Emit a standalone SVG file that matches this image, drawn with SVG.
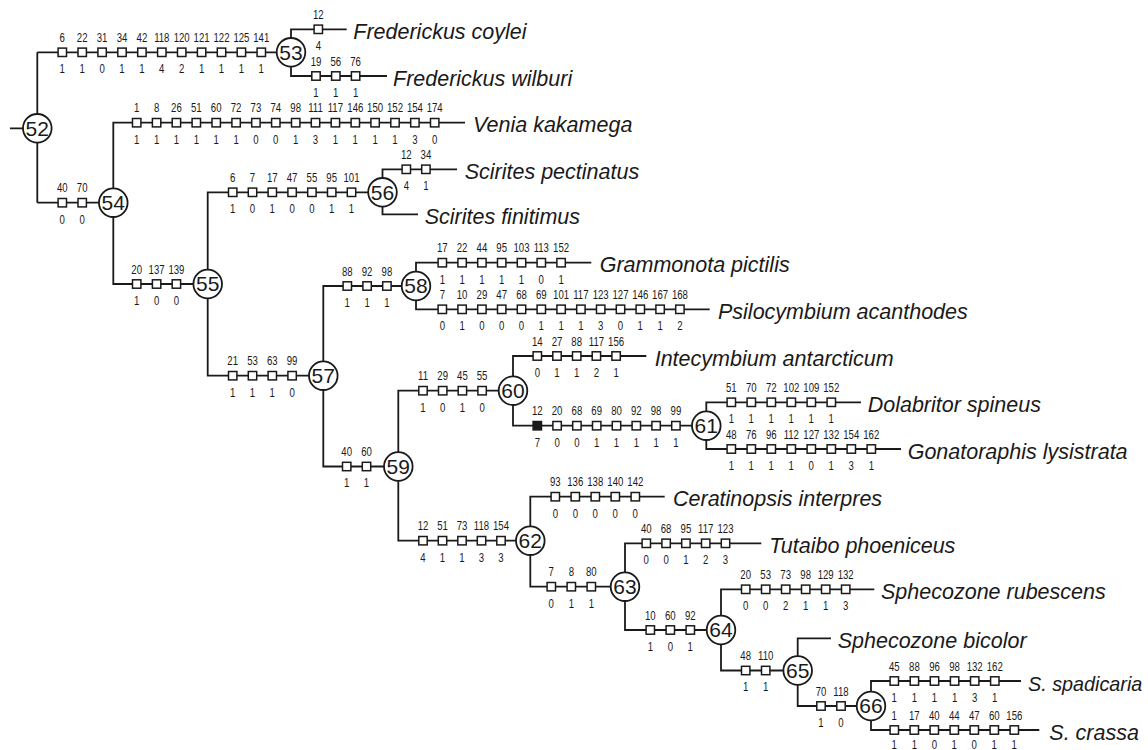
<svg xmlns="http://www.w3.org/2000/svg" width="1148" height="750" viewBox="0 0 1148 750">
<style>
.bg{fill:#fff}
.con{fill:none;stroke:#1a1a1a;stroke-width:1.8}
.sq{fill:#fff;stroke:#1a1a1a;stroke-width:1.5}
.sqf{fill:#1a1a1a;stroke:#1a1a1a;stroke-width:1.5}
.nd{fill:#fff;stroke:#1a1a1a;stroke-width:1.8}
.nl{font-family:"Liberation Sans",Arial,sans-serif;font-size:21px;fill:#1a1a1a;text-anchor:middle}
.ch{font-family:"Liberation Sans",Arial,sans-serif;font-size:12px;fill:#1a1a1a;text-anchor:middle}
.tx{font-family:"Liberation Sans",Arial,sans-serif;font-size:21.5px;font-style:italic;fill:#1a1a1a}
</style>
<defs>
<rect id="s" class="sq" x="-4.2" y="-4.2" width="8.4" height="8.4"/>
<rect id="sf" class="sqf" x="-4.2" y="-4.2" width="8.4" height="8.4"/>
</defs>
<rect class="bg" x="0" y="0" width="1148" height="750"/>
<g id="connectors" class="con">
<path d="M10,128.3H37.3M37.3,52.3V202.7M37.3,52.3H291M291,52.3V29.3H346.7M291,52.3V76H387"/>
<path d="M37.3,202.7H113.3M113.3,202.7V122.7H465M113.3,202.7V284H207.7"/>
<path d="M207.7,284V192.3H382.5M382.5,192.3V169.3H457M382.5,192.3V214.3H418"/>
<path d="M207.7,284V375.7H323.3M323.3,375.7V286H416M416,286V262.7H591.3M416,286V309.3H709.7"/>
<path d="M323.3,375.7V466.5H398.3M398.3,466.5V390.7H513M513,390.7V356H646.3M513,390.7V425.7H706.3M706.3,425.7V402.3H861M706.3,425.7V449H901"/>
<path d="M398.3,466.5V540.7H530.3M530.3,540.7V496.7H664.7M530.3,540.7V586.7H625M625,586.7V543.3H761.3M625,586.7V630H721"/>
<path d="M721,630V589.3H874.3M721,630V670.5H797.7M797.7,670.5V638.3H831M797.7,670.5V706H871M871,706V681H1021M871,706V730H1039.3"/>
</g>
<g id="chars-53">
<use href="#s" x="62.3" y="52.3"/><use href="#s" x="82.2" y="52.3"/><use href="#s" x="102.1" y="52.3"/><use href="#s" x="122" y="52.3"/><use href="#s" x="141.9" y="52.3"/><use href="#s" x="161.8" y="52.3"/><use href="#s" x="181.7" y="52.3"/><use href="#s" x="201.6" y="52.3"/><use href="#s" x="221.5" y="52.3"/><use href="#s" x="241.4" y="52.3"/><use href="#s" x="261.3" y="52.3"/>
<text class="ch" transform="scale(0.8 1)" y="42"><tspan x="77.875">6</tspan><tspan x="102.75">22</tspan><tspan x="127.625">31</tspan><tspan x="152.5">34</tspan><tspan x="177.375">42</tspan><tspan x="202.25">118</tspan><tspan x="227.125">120</tspan><tspan x="252">121</tspan><tspan x="276.875">122</tspan><tspan x="301.75">125</tspan><tspan x="326.625">141</tspan></text>
<text class="ch" transform="scale(0.8 1)" y="73.3" x="77.875 102.75 127.625 152.5 177.375 202.25 227.125 252 276.875 301.75 326.625">11011421111</text>
</g>
<g id="chars-coylei">
<use href="#s" x="318.3" y="29.3"/>
<text class="ch" transform="scale(0.8 1)" x="397.875" y="19">12</text>
<text class="ch" transform="scale(0.8 1)" x="397.875" y="50.3">4</text>
</g>
<g id="chars-wilburi">
<use href="#s" x="316" y="76"/><use href="#s" x="335.8" y="76"/><use href="#s" x="355.6" y="76"/>
<text class="ch" transform="scale(0.8 1)" y="65.7"><tspan x="395">19</tspan><tspan x="419.75">56</tspan><tspan x="444.5">76</tspan></text>
<text class="ch" transform="scale(0.8 1)" y="97" x="395 419.75 444.5">111</text>
</g>
<g id="chars-54">
<use href="#s" x="62.3" y="202.7"/><use href="#s" x="82.2" y="202.7"/>
<text class="ch" transform="scale(0.8 1)" y="192.4"><tspan x="77.875">40</tspan><tspan x="102.75">70</tspan></text>
<text class="ch" transform="scale(0.8 1)" y="223.7" x="77.875 102.75">00</text>
</g>
<g id="chars-venia">
<use href="#s" x="136.7" y="122.7"/><use href="#s" x="156.6" y="122.7"/><use href="#s" x="176.4" y="122.7"/><use href="#s" x="196.3" y="122.7"/><use href="#s" x="216.2" y="122.7"/><use href="#s" x="236.1" y="122.7"/><use href="#s" x="255.9" y="122.7"/><use href="#s" x="275.8" y="122.7"/><use href="#s" x="295.7" y="122.7"/><use href="#s" x="315.5" y="122.7"/><use href="#s" x="335.4" y="122.7"/><use href="#s" x="355.3" y="122.7"/><use href="#s" x="375.1" y="122.7"/><use href="#s" x="395" y="122.7"/><use href="#s" x="414.9" y="122.7"/><use href="#s" x="434.7" y="122.7"/>
<text class="ch" transform="scale(0.8 1)" y="112.4"><tspan x="170.875">1</tspan><tspan x="195.75">8</tspan><tspan x="220.5">26</tspan><tspan x="245.375">51</tspan><tspan x="270.25">60</tspan><tspan x="295.125">72</tspan><tspan x="319.875">73</tspan><tspan x="344.75">74</tspan><tspan x="369.625">98</tspan><tspan x="394.375">111</tspan><tspan x="419.25">117</tspan><tspan x="444.125">146</tspan><tspan x="468.875">150</tspan><tspan x="493.75">152</tspan><tspan x="518.625">154</tspan><tspan x="543.375">174</tspan></text>
<text class="ch" transform="scale(0.8 1)" y="143.7" x="170.875 195.75 220.5 245.375 270.25 295.125 319.875 344.75 369.625 394.375 419.25 444.125 468.875 493.75 518.625 543.375">1111110013111130</text>
</g>
<g id="chars-55">
<use href="#s" x="136.7" y="284"/><use href="#s" x="156.6" y="284"/><use href="#s" x="176.4" y="284"/>
<text class="ch" transform="scale(0.8 1)" y="273.7"><tspan x="170.875">20</tspan><tspan x="195.75">137</tspan><tspan x="220.5">139</tspan></text>
<text class="ch" transform="scale(0.8 1)" y="305" x="170.875 195.75 220.5">100</text>
</g>
<g id="chars-56">
<use href="#s" x="232.7" y="192.3"/><use href="#s" x="252.5" y="192.3"/><use href="#s" x="272.3" y="192.3"/><use href="#s" x="292.1" y="192.3"/><use href="#s" x="311.9" y="192.3"/><use href="#s" x="331.7" y="192.3"/><use href="#s" x="351.5" y="192.3"/>
<text class="ch" transform="scale(0.8 1)" y="182"><tspan x="290.875">6</tspan><tspan x="315.625">7</tspan><tspan x="340.375">17</tspan><tspan x="365.125">47</tspan><tspan x="389.875">55</tspan><tspan x="414.625">95</tspan><tspan x="439.375">101</tspan></text>
<text class="ch" transform="scale(0.8 1)" y="213.3" x="290.875 315.625 340.375 365.125 389.875 414.625 439.375">1010011</text>
</g>
<g id="chars-pectinatus">
<use href="#s" x="406.3" y="169.3"/><use href="#s" x="425.9" y="169.3"/>
<text class="ch" transform="scale(0.8 1)" y="159"><tspan x="507.875">12</tspan><tspan x="532.375">34</tspan></text>
<text class="ch" transform="scale(0.8 1)" y="190.3" x="507.875 532.375">41</text>
</g>
<g id="chars-57">
<use href="#s" x="232.7" y="375.7"/><use href="#s" x="252.5" y="375.7"/><use href="#s" x="272.3" y="375.7"/><use href="#s" x="292.1" y="375.7"/>
<text class="ch" transform="scale(0.8 1)" y="365.4"><tspan x="290.875">21</tspan><tspan x="315.625">53</tspan><tspan x="340.375">63</tspan><tspan x="365.125">99</tspan></text>
<text class="ch" transform="scale(0.8 1)" y="396.7" x="290.875 315.625 340.375 365.125">1110</text>
</g>
<g id="chars-58">
<use href="#s" x="347.3" y="286"/><use href="#s" x="367.1" y="286"/><use href="#s" x="386.9" y="286"/>
<text class="ch" transform="scale(0.8 1)" y="275.7"><tspan x="434.125">88</tspan><tspan x="458.875">92</tspan><tspan x="483.625">98</tspan></text>
<text class="ch" transform="scale(0.8 1)" y="307" x="434.125 458.875 483.625">111</text>
</g>
<g id="chars-grammonota">
<use href="#s" x="442.3" y="262.7"/><use href="#s" x="462.1" y="262.7"/><use href="#s" x="481.9" y="262.7"/><use href="#s" x="501.7" y="262.7"/><use href="#s" x="521.5" y="262.7"/><use href="#s" x="541.3" y="262.7"/><use href="#s" x="561.1" y="262.7"/>
<text class="ch" transform="scale(0.8 1)" y="252.4"><tspan x="552.875">17</tspan><tspan x="577.625">22</tspan><tspan x="602.375">44</tspan><tspan x="627.125">95</tspan><tspan x="651.875">103</tspan><tspan x="676.625">113</tspan><tspan x="701.375">152</tspan></text>
<text class="ch" transform="scale(0.8 1)" y="283.7" x="552.875 577.625 602.375 627.125 651.875 676.625 701.375">1111101</text>
</g>
<g id="chars-psilocymbium">
<use href="#s" x="442.3" y="309.3"/><use href="#s" x="462.1" y="309.3"/><use href="#s" x="481.9" y="309.3"/><use href="#s" x="501.7" y="309.3"/><use href="#s" x="521.5" y="309.3"/><use href="#s" x="541.3" y="309.3"/><use href="#s" x="561.1" y="309.3"/><use href="#s" x="580.9" y="309.3"/><use href="#s" x="600.7" y="309.3"/><use href="#s" x="620.5" y="309.3"/><use href="#s" x="640.3" y="309.3"/><use href="#s" x="660.1" y="309.3"/><use href="#s" x="679.9" y="309.3"/>
<text class="ch" transform="scale(0.8 1)" y="299"><tspan x="552.875">7</tspan><tspan x="577.625">10</tspan><tspan x="602.375">29</tspan><tspan x="627.125">47</tspan><tspan x="651.875">68</tspan><tspan x="676.625">69</tspan><tspan x="701.375">101</tspan><tspan x="726.125">117</tspan><tspan x="750.875">123</tspan><tspan x="775.625">127</tspan><tspan x="800.375">146</tspan><tspan x="825.125">167</tspan><tspan x="849.875">168</tspan></text>
<text class="ch" transform="scale(0.8 1)" y="330.3" x="552.875 577.625 602.375 627.125 651.875 676.625 701.375 726.125 750.875 775.625 800.375 825.125 849.875">0100011130112</text>
</g>
<g id="chars-59">
<use href="#s" x="346.7" y="466.5"/><use href="#s" x="366.5" y="466.5"/>
<text class="ch" transform="scale(0.8 1)" y="456.2"><tspan x="433.375">40</tspan><tspan x="458.125">60</tspan></text>
<text class="ch" transform="scale(0.8 1)" y="487.5" x="433.375 458.125">11</text>
</g>
<g id="chars-60">
<use href="#s" x="423" y="390.7"/><use href="#s" x="442.7" y="390.7"/><use href="#s" x="462.4" y="390.7"/><use href="#s" x="482.1" y="390.7"/>
<text class="ch" transform="scale(0.8 1)" y="380.4"><tspan x="528.75">11</tspan><tspan x="553.375">29</tspan><tspan x="578">45</tspan><tspan x="602.625">55</tspan></text>
<text class="ch" transform="scale(0.8 1)" y="411.7" x="528.75 553.375 578 602.625">1010</text>
</g>
<g id="chars-intecymbium">
<use href="#s" x="537.3" y="356"/><use href="#s" x="557" y="356"/><use href="#s" x="576.7" y="356"/><use href="#s" x="596.4" y="356"/><use href="#s" x="616.1" y="356"/>
<text class="ch" transform="scale(0.8 1)" y="345.7"><tspan x="671.625">14</tspan><tspan x="696.25">27</tspan><tspan x="720.875">88</tspan><tspan x="745.5">117</tspan><tspan x="770.125">156</tspan></text>
<text class="ch" transform="scale(0.8 1)" y="377" x="671.625 696.25 720.875 745.5 770.125">01121</text>
</g>
<g id="chars-61">
<use href="#sf" x="537.3" y="425.7"/><use href="#s" x="557.1" y="425.7"/><use href="#s" x="576.9" y="425.7"/><use href="#s" x="596.7" y="425.7"/><use href="#s" x="616.5" y="425.7"/><use href="#s" x="636.3" y="425.7"/><use href="#s" x="656.1" y="425.7"/><use href="#s" x="675.9" y="425.7"/>
<text class="ch" transform="scale(0.8 1)" y="415.4"><tspan x="671.625">12</tspan><tspan x="696.375">20</tspan><tspan x="721.125">68</tspan><tspan x="745.875">69</tspan><tspan x="770.625">80</tspan><tspan x="795.375">92</tspan><tspan x="820.125">98</tspan><tspan x="844.875">99</tspan></text>
<text class="ch" transform="scale(0.8 1)" y="446.7" x="671.625 696.375 721.125 745.875 770.625 795.375 820.125 844.875">70011111</text>
</g>
<g id="chars-dolabritor">
<use href="#s" x="731.3" y="402.3"/><use href="#s" x="751.3" y="402.3"/><use href="#s" x="771.3" y="402.3"/><use href="#s" x="791.3" y="402.3"/><use href="#s" x="811.3" y="402.3"/><use href="#s" x="831.3" y="402.3"/>
<text class="ch" transform="scale(0.8 1)" y="392"><tspan x="914.125">51</tspan><tspan x="939.125">70</tspan><tspan x="964.125">72</tspan><tspan x="989.125">102</tspan><tspan x="1014.125">109</tspan><tspan x="1039.125">152</tspan></text>
<text class="ch" transform="scale(0.8 1)" y="423.3" x="914.125 939.125 964.125 989.125 1014.125 1039.125">111111</text>
</g>
<g id="chars-gonatoraphis">
<use href="#s" x="731.3" y="449"/><use href="#s" x="751.3" y="449"/><use href="#s" x="771.3" y="449"/><use href="#s" x="791.3" y="449"/><use href="#s" x="811.3" y="449"/><use href="#s" x="831.3" y="449"/><use href="#s" x="851.3" y="449"/><use href="#s" x="871.3" y="449"/>
<text class="ch" transform="scale(0.8 1)" y="438.7"><tspan x="914.125">48</tspan><tspan x="939.125">76</tspan><tspan x="964.125">96</tspan><tspan x="989.125">112</tspan><tspan x="1014.125">127</tspan><tspan x="1039.125">132</tspan><tspan x="1064.125">154</tspan><tspan x="1089.125">162</tspan></text>
<text class="ch" transform="scale(0.8 1)" y="470" x="914.125 939.125 964.125 989.125 1014.125 1039.125 1064.125 1089.125">11110131</text>
</g>
<g id="chars-62">
<use href="#s" x="423" y="540.7"/><use href="#s" x="442.5" y="540.7"/><use href="#s" x="462" y="540.7"/><use href="#s" x="481.5" y="540.7"/><use href="#s" x="501" y="540.7"/>
<text class="ch" transform="scale(0.8 1)" y="530.4"><tspan x="528.75">12</tspan><tspan x="553.125">51</tspan><tspan x="577.5">73</tspan><tspan x="601.875">118</tspan><tspan x="626.25">154</tspan></text>
<text class="ch" transform="scale(0.8 1)" y="561.7" x="528.75 553.125 577.5 601.875 626.25">41133</text>
</g>
<g id="chars-ceratinopsis">
<use href="#s" x="555.3" y="496.7"/><use href="#s" x="575.3" y="496.7"/><use href="#s" x="595.3" y="496.7"/><use href="#s" x="615.3" y="496.7"/><use href="#s" x="635.3" y="496.7"/>
<text class="ch" transform="scale(0.8 1)" y="486.4"><tspan x="694.125">93</tspan><tspan x="719.125">136</tspan><tspan x="744.125">138</tspan><tspan x="769.125">140</tspan><tspan x="794.125">142</tspan></text>
<text class="ch" transform="scale(0.8 1)" y="517.7" x="694.125 719.125 744.125 769.125 794.125">00000</text>
</g>
<g id="chars-63">
<use href="#s" x="551.3" y="586.7"/><use href="#s" x="571.3" y="586.7"/><use href="#s" x="591.3" y="586.7"/>
<text class="ch" transform="scale(0.8 1)" y="576.4"><tspan x="689.125">7</tspan><tspan x="714.125">8</tspan><tspan x="739.125">80</tspan></text>
<text class="ch" transform="scale(0.8 1)" y="607.7" x="689.125 714.125 739.125">011</text>
</g>
<g id="chars-tutaibo">
<use href="#s" x="646.3" y="543.3"/><use href="#s" x="666.1" y="543.3"/><use href="#s" x="685.9" y="543.3"/><use href="#s" x="705.7" y="543.3"/><use href="#s" x="725.5" y="543.3"/>
<text class="ch" transform="scale(0.8 1)" y="533"><tspan x="807.875">40</tspan><tspan x="832.625">68</tspan><tspan x="857.375">95</tspan><tspan x="882.125">117</tspan><tspan x="906.875">123</tspan></text>
<text class="ch" transform="scale(0.8 1)" y="564.3" x="807.875 832.625 857.375 882.125 906.875">00123</text>
</g>
<g id="chars-64">
<use href="#s" x="650.3" y="630"/><use href="#s" x="670.3" y="630"/><use href="#s" x="690.3" y="630"/>
<text class="ch" transform="scale(0.8 1)" y="619.7"><tspan x="812.875">10</tspan><tspan x="837.875">60</tspan><tspan x="862.875">92</tspan></text>
<text class="ch" transform="scale(0.8 1)" y="651" x="812.875 837.875 862.875">101</text>
</g>
<g id="chars-rubescens">
<use href="#s" x="745.7" y="589.3"/><use href="#s" x="765.7" y="589.3"/><use href="#s" x="785.7" y="589.3"/><use href="#s" x="805.7" y="589.3"/><use href="#s" x="825.7" y="589.3"/><use href="#s" x="845.7" y="589.3"/>
<text class="ch" transform="scale(0.8 1)" y="579"><tspan x="932.125">20</tspan><tspan x="957.125">53</tspan><tspan x="982.125">73</tspan><tspan x="1007.125">98</tspan><tspan x="1032.125">129</tspan><tspan x="1057.125">132</tspan></text>
<text class="ch" transform="scale(0.8 1)" y="610.3" x="932.125 957.125 982.125 1007.125 1032.125 1057.125">002113</text>
</g>
<g id="chars-65">
<use href="#s" x="745.7" y="670.5"/><use href="#s" x="765.7" y="670.5"/>
<text class="ch" transform="scale(0.8 1)" y="660.2"><tspan x="932.125">48</tspan><tspan x="957.125">110</tspan></text>
<text class="ch" transform="scale(0.8 1)" y="691.5" x="932.125 957.125">11</text>
</g>
<g id="chars-66">
<use href="#s" x="821" y="706"/><use href="#s" x="841" y="706"/>
<text class="ch" transform="scale(0.8 1)" y="695.7"><tspan x="1026.25">70</tspan><tspan x="1051.25">118</tspan></text>
<text class="ch" transform="scale(0.8 1)" y="727" x="1026.25 1051.25">10</text>
</g>
<g id="chars-spadicaria">
<use href="#s" x="894.3" y="681"/><use href="#s" x="914.4" y="681"/><use href="#s" x="934.5" y="681"/><use href="#s" x="954.6" y="681"/><use href="#s" x="974.7" y="681"/><use href="#s" x="994.8" y="681"/>
<text class="ch" transform="scale(0.8 1)" y="670.7"><tspan x="1117.875">45</tspan><tspan x="1143">88</tspan><tspan x="1168.125">96</tspan><tspan x="1193.25">98</tspan><tspan x="1218.375">132</tspan><tspan x="1243.5">162</tspan></text>
<text class="ch" transform="scale(0.8 1)" y="702" x="1117.875 1143 1168.125 1193.25 1218.375 1243.5">111131</text>
</g>
<g id="chars-crassa">
<use href="#s" x="894.3" y="730"/><use href="#s" x="914.3" y="730"/><use href="#s" x="934.3" y="730"/><use href="#s" x="954.3" y="730"/><use href="#s" x="974.3" y="730"/><use href="#s" x="994.3" y="730"/><use href="#s" x="1014.3" y="730"/>
<text class="ch" transform="scale(0.8 1)" y="719.7"><tspan x="1117.875">1</tspan><tspan x="1142.875">17</tspan><tspan x="1167.875">40</tspan><tspan x="1192.875">44</tspan><tspan x="1217.875">47</tspan><tspan x="1242.875">60</tspan><tspan x="1267.875">156</tspan></text>
<text class="ch" transform="scale(0.8 1)" y="749" x="1117.875 1142.875 1167.875 1192.875 1217.875 1242.875 1267.875">1101011</text>
</g>
<g id="node-52"><circle class="nd" cx="37.3" cy="128.3" r="14.3"/><text class="nl" x="37.3" y="135.7">52</text></g>
<g id="node-53"><circle class="nd" cx="291" cy="52.3" r="14.3"/><text class="nl" x="291" y="59.7">53</text></g>
<g id="node-54"><circle class="nd" cx="113.3" cy="202.7" r="14.3"/><text class="nl" x="113.3" y="210.1">54</text></g>
<g id="node-55"><circle class="nd" cx="207.7" cy="284" r="14.3"/><text class="nl" x="207.7" y="291.4">55</text></g>
<g id="node-56"><circle class="nd" cx="382.5" cy="192.3" r="14.3"/><text class="nl" x="382.5" y="199.7">56</text></g>
<g id="node-57"><circle class="nd" cx="323.3" cy="375.7" r="14.3"/><text class="nl" x="323.3" y="383.1">57</text></g>
<g id="node-58"><circle class="nd" cx="416" cy="286" r="14.3"/><text class="nl" x="416" y="293.4">58</text></g>
<g id="node-59"><circle class="nd" cx="398.3" cy="466.5" r="14.3"/><text class="nl" x="398.3" y="473.9">59</text></g>
<g id="node-60"><circle class="nd" cx="513" cy="390.7" r="14.3"/><text class="nl" x="513" y="398.1">60</text></g>
<g id="node-61"><circle class="nd" cx="706.3" cy="425.7" r="14.3"/><text class="nl" x="706.3" y="433.1">61</text></g>
<g id="node-62"><circle class="nd" cx="530.3" cy="540.7" r="14.3"/><text class="nl" x="530.3" y="548.1">62</text></g>
<g id="node-63"><circle class="nd" cx="625" cy="586.7" r="14.3"/><text class="nl" x="625" y="594.1">63</text></g>
<g id="node-64"><circle class="nd" cx="721" cy="630" r="14.3"/><text class="nl" x="721" y="637.4">64</text></g>
<g id="node-65"><circle class="nd" cx="797.7" cy="670.5" r="14.3"/><text class="nl" x="797.7" y="677.9">65</text></g>
<g id="node-66"><circle class="nd" cx="871" cy="706" r="14.3"/><text class="nl" x="871" y="713.4">66</text></g>
<g id="taxon-coylei"><text class="tx" x="353.3" y="39">Frederickus coylei</text></g>
<g id="taxon-wilburi"><text class="tx" x="393" y="85.7">Frederickus wilburi</text></g>
<g id="taxon-venia"><text class="tx" x="473" y="132.4">Venia kakamega</text></g>
<g id="taxon-pectinatus"><text class="tx" x="464.7" y="179">Scirites pectinatus</text></g>
<g id="taxon-finitimus"><text class="tx" x="424.7" y="224">Scirites finitimus</text></g>
<g id="taxon-grammonota"><text class="tx" x="599.7" y="272.4">Grammonota pictilis</text></g>
<g id="taxon-psilocymbium"><text class="tx" x="718" y="319">Psilocymbium acanthodes</text></g>
<g id="taxon-intecymbium"><text class="tx" x="654.7" y="365.7">Intecymbium antarcticum</text></g>
<g id="taxon-dolabritor"><text class="tx" x="867.7" y="412">Dolabritor spineus</text></g>
<g id="taxon-gonatoraphis"><text class="tx" x="907.7" y="458.7">Gonatoraphis lysistrata</text></g>
<g id="taxon-ceratinopsis"><text class="tx" x="673" y="506.4">Ceratinopsis interpres</text></g>
<g id="taxon-tutaibo"><text class="tx" x="769.3" y="553">Tutaibo phoeniceus</text></g>
<g id="taxon-rubescens"><text class="tx" x="881" y="599">Sphecozone rubescens</text></g>
<g id="taxon-bicolor"><text class="tx" x="837.7" y="648">Sphecozone bicolor</text></g>
<g id="taxon-spadicaria"><text class="tx" x="1028" y="690.7" style="font-size:19.8px">S. spadicaria</text></g>
<g id="taxon-crassa"><text class="tx" x="1049.3" y="739.7">S. crassa</text></g>
</svg>
